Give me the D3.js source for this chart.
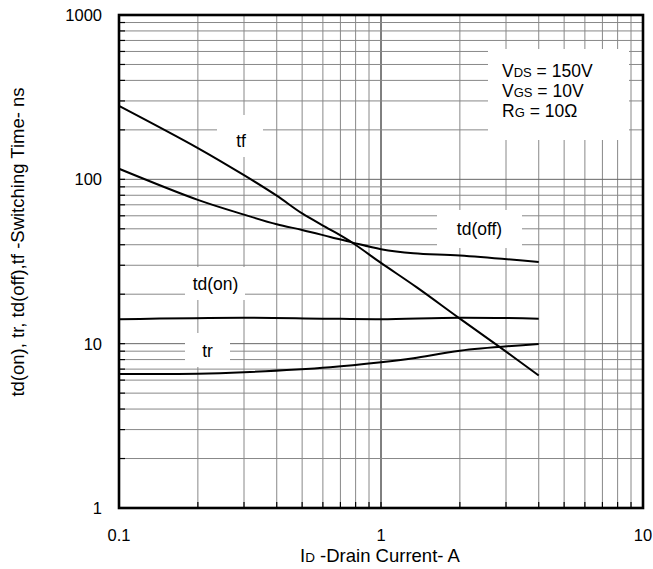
<!DOCTYPE html>
<html>
<head>
<meta charset="utf-8">
<script src="https://cdn.jsdelivr.net/npm/d3@7"></script>
<style>
  html, body { margin: 0; padding: 0; background: #fff; }
  svg { display: block; }
  text { font-family: "Liberation Sans", Arial, Helvetica, sans-serif; fill: #000; }
</style>
</head>
<body>
<svg id="chart" width="653" height="569"></svg>
<script>
// Axis tick labels
const xTickValues = [0.1, 1, 10];
const xTickLabels = ["0.1", "1", "10"];
const yTickValues = [1, 10, 100, 1000];
const yTickLabels = ["1", "10", "100", "1000"];

// Switching times (ns) versus drain current (A)
const tfCurrent = [0.1, 0.2, 0.3, 0.4, 0.5, 0.64, 0.78, 1, 1.37, 2, 2.85, 4];
const tfTime    = [280, 155, 106, 79.5, 62, 49.5, 41, 31, 22, 14.2, 9.5, 6.4];

const tdOffCurrent = [0.1, 0.2, 0.3, 0.4, 0.5, 0.64, 0.78, 1, 1.33, 2, 4];
const tdOffTime    = [116, 75, 61, 53.3, 49.2, 44.6, 41.2, 37.6, 35.5, 34.4, 31.4];

const tdOnCurrent = [0.1, 0.3, 0.6, 1, 2, 4];
const tdOnTime    = [14.1, 14.4, 14.2, 14.1, 14.4, 14.2];

const trCurrent = [0.1, 0.2, 0.3, 0.64, 1, 1.33, 2, 4];
const trTime    = [6.54, 6.56, 6.7, 7.18, 7.7, 8.15, 9.06, 9.96];

const seriesNames = ["tf", "td(off)", "td(on)", "tr"];

// Test conditions: main letter, small suffix, remainder
const conditionMain = ["V", "V", "R"];
const conditionSub  = ["DS", "GS", "G"];
const conditionRest = [" = 150V", " = 10V", " = 10\u03A9"];

const svg = d3.select("#chart");
const plot = { left: 119, right: 643, top: 15, bottom: 508 };

const x = d3.scaleLog().domain([0.1, 10]).range([plot.left, plot.right]);
const y = d3.scaleLog().domain([1, 1000]).range([plot.bottom, plot.top]);

// Grid lines
const grid = svg.append("g");
x.ticks().forEach(v => {
  grid.append("line")
    .attr("x1", x(v)).attr("x2", x(v))
    .attr("y1", plot.top).attr("y2", plot.bottom)
    .attr("stroke", v === 1 ? "#000" : "#888")
    .attr("stroke-width", 1);
});
y.ticks().forEach(v => {
  const major = v === 10 || v === 100;
  grid.append("line")
    .attr("x1", plot.left).attr("x2", plot.right)
    .attr("y1", y(v)).attr("y2", y(v))
    .attr("stroke", major ? "#666" : "#888")
    .attr("stroke-width", 1);
});

// Inward tick marks on left and bottom
const tickG = svg.append("g");
y.ticks().forEach(v => {
  tickG.append("line")
    .attr("x1", plot.left).attr("x2", plot.left + 6)
    .attr("y1", y(v)).attr("y2", y(v))
    .attr("stroke", "#000").attr("stroke-width", 1.2);
});
x.ticks().forEach(v => {
  tickG.append("line")
    .attr("x1", x(v)).attr("x2", x(v))
    .attr("y1", plot.bottom).attr("y2", plot.bottom - 6)
    .attr("stroke", "#000").attr("stroke-width", 1.2);
});

// White boxes behind the series labels and the conditions block
const boxes = [
  { x0: 217, x1: 263, y0: 115, y1: 157 },
  { x0: 437, x1: 522, y0: 210, y1: 248 },
  { x0: 185, x1: 245, y0: 267, y1: 300 },
  { x0: 185, x1: 230, y0: 333, y1: 367 },
  { x0: 488, x1: 629, y0: 49,  y1: 140 }
];
svg.append("g").selectAll("rect").data(boxes).join("rect")
  .attr("x", d => d.x0).attr("y", d => d.y0)
  .attr("width", d => d.x1 - d.x0).attr("height", d => d.y1 - d.y0)
  .attr("fill", "#fff");

// Curves
const line = d3.line()
  .x(d => x(d[0]))
  .y(d => y(d[1]))
  .curve(d3.curveCatmullRom.alpha(0.5));

const curves = [
  d3.zip(tfCurrent, tfTime),
  d3.zip(tdOffCurrent, tdOffTime),
  d3.zip(tdOnCurrent, tdOnTime),
  d3.zip(trCurrent, trTime)
];
svg.append("g").selectAll("path").data(curves).join("path")
  .attr("d", line)
  .attr("fill", "none")
  .attr("stroke", "#000")
  .attr("stroke-width", 2);

// Frame
svg.append("rect")
  .attr("x", plot.left).attr("y", plot.top)
  .attr("width", plot.right - plot.left).attr("height", plot.bottom - plot.top)
  .attr("fill", "none").attr("stroke", "#000").attr("stroke-width", 2.6);

// Series labels
const labelPos = [
  { x: 241, y: 147 },
  { x: 479.5, y: 234.5 },
  { x: 215.5, y: 289.5 },
  { x: 207.5, y: 357 }
];
svg.append("g").selectAll("text").data(seriesNames).join("text")
  .attr("x", (d, i) => labelPos[i].x)
  .attr("y", (d, i) => labelPos[i].y)
  .attr("text-anchor", "middle")
  .attr("font-size", 17.5)
  .text(d => d);

// Conditions block
const cond = svg.append("g");
conditionMain.forEach((m, i) => {
  const t = cond.append("text")
    .attr("x", 502).attr("y", 76.7 + i * 20.3)
    .attr("font-size", 17.5);
  t.append("tspan").text(m);
  t.append("tspan").attr("font-size", 13).text(conditionSub[i]);
  t.append("tspan").text(conditionRest[i]);
});

// Tick labels
svg.append("g").selectAll("text").data(yTickValues).join("text")
  .attr("x", 102)
  .attr("y", d => y(d) + 6)
  .attr("text-anchor", "end")
  .attr("font-size", 16.5)
  .text((d, i) => yTickLabels[i]);

svg.append("g").selectAll("text").data(xTickValues).join("text")
  .attr("x", d => x(d))
  .attr("y", 541)
  .attr("text-anchor", "middle")
  .attr("font-size", 16.5)
  .text((d, i) => xTickLabels[i]);

// Axis titles
const xt = svg.append("text")
  .attr("x", 380).attr("y", 562)
  .attr("text-anchor", "middle")
  .attr("font-size", 18.5);
xt.append("tspan").text("I");
xt.append("tspan").attr("font-size", 13.5).text("D");
xt.append("tspan").text(" -Drain Current- A");

svg.append("text")
  .attr("transform", "translate(24,242) rotate(-90)")
  .attr("text-anchor", "middle")
  .attr("font-size", 18.5)
  .text("td(on), tr, td(off),tf -Switching Time- ns");
</script>
</body>
</html>
